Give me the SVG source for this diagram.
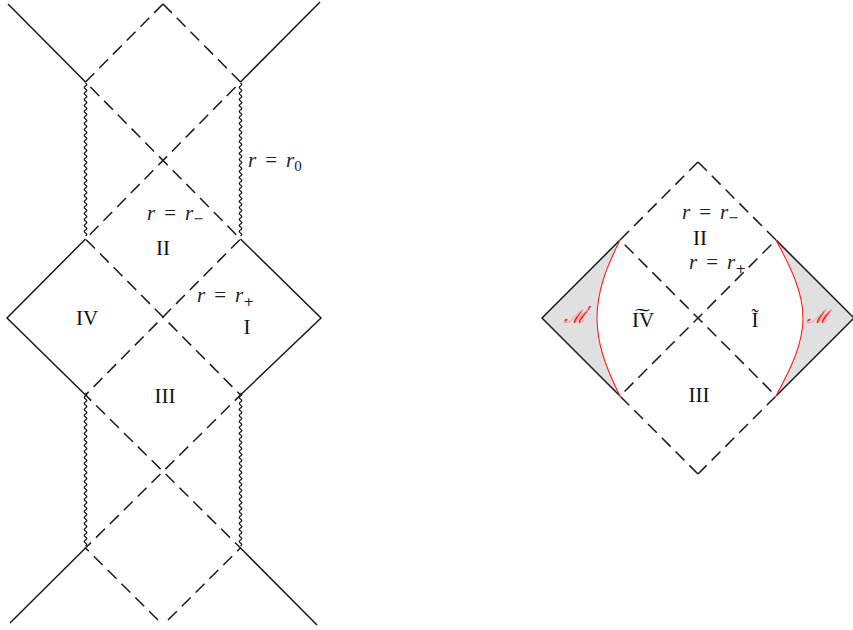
<svg xmlns="http://www.w3.org/2000/svg" xmlns:xlink="http://www.w3.org/1999/xlink" width="853" height="630" viewBox="0 0 853 630">
<style>
.sol{fill:none;stroke:#1a1a1a;stroke-width:1.5}
.dash{fill:none;stroke:#1a1a1a;stroke-width:1.5;stroke-dasharray:12.5 7}
.wig{fill:none;stroke:#1a1a1a;stroke-width:1.4}
.red{fill:none;stroke:#ff2020;stroke-width:1.1}
.gray{fill:#e0e0e0;stroke:none}
.num{font-family:"Liberation Serif",serif;font-size:21px;fill:#111;text-anchor:middle}
.m{font-family:"Liberation Serif",serif;font-size:21px;fill:#1c2036}
.i{font-style:italic}
.s{font-size:15px}
.op{font-family:"DejaVu Sans",sans-serif;font-size:13px}
.lab{font-family:"DejaVu Serif","Liberation Serif",serif;font-style:italic;font-size:19px;fill:#ff2020}
.pr{font-family:"DejaVu Sans",sans-serif;font-size:22px;fill:#ff2020}
</style>
<defs>
<path id="wg" class="wig" d="M0,0 q2.4,1.5 0,3 t0,3 t0,3 t0,3 t0,3 t0,3 t0,3 t0,3 t0,3 t0,3 t0,3 t0,3 t0,3 t0,3 t0,3 t0,3 t0,3 t0,3 t0,3 t0,3 t0,3 t0,3 t0,3 t0,3 t0,3 t0,3 t0,3 t0,3 t0,3 t0,3 t0,3 t0,3 t0,3 t0,3 t0,3 t0,3 t0,3 t0,3 t0,3 t0,3 t0,3 t0,3 t0,3 t0,3 t0,3 t0,3 t0,3 t0,3 t0,3 t0,3 t0,3"/>
</defs>
<g id="connectors">
  <!-- left diagram -->
  <polyline class="dash" points="163,4 85.5,82 240.5,239 85.5,395 240.5,548 163,625"/>
  <polyline class="dash" points="163,4 240.5,82 85.5,239 240.5,395 85.5,548 163,625"/>
  <polyline class="sol" points="8,4 85.5,82"/>
  <polyline class="sol" points="240.5,82 320,2"/>
  <polyline class="sol" points="85.5,239 7,318 85.5,395"/>
  <polyline class="sol" points="240.5,239 321,318 240.5,395"/>
  <polyline class="sol" points="85.5,548 10,623"/>
  <polyline class="sol" points="240.5,548 317,625"/>
  <use xlink:href="#wg" x="85.5" y="83"/>
  <use xlink:href="#wg" x="240.5" y="83"/>
  <use xlink:href="#wg" x="85.5" y="393"/>
  <use xlink:href="#wg" x="240.5" y="393"/>
  <!-- right diagram -->
  <path class="gray" d="M620,240 L542,318 L620,396 C606,368 597,344 597,318 C597,292 606,268 620,240 Z"/>
  <path class="gray" d="M776,240 L854,318 L776,396 C791,368 803,344 803,318 C803,292 791,268 776,240 Z"/>
  <polyline class="dash" points="698,162 620,240 776,396 698,474"/>
  <polyline class="dash" points="698,162 776,240 620,396 698,474"/>
  <polyline class="sol" points="620,240 542,318 620,396"/>
  <polyline class="sol" points="776,240 854,318 776,396"/>
  <path class="red" d="M620,240 C606,268 597,292 597,318 C597,344 606,368 620,396"/>
  <path class="red" d="M776,240 C791,268 803,292 803,318 C803,344 791,368 776,396"/>
</g>
<g id="left-labels">
  <text class="m" x="248" y="167"><tspan class="i">r</tspan><tspan dx="9">=</tspan><tspan class="i" dx="9">r</tspan><tspan class="s" dy="4">0</tspan></text>
  <text class="m" x="147" y="220"><tspan class="i">r</tspan><tspan dx="9">=</tspan><tspan class="i" dx="9">r</tspan><tspan class="op" dy="3">−</tspan></text>
  <text class="m" x="197" y="302"><tspan class="i">r</tspan><tspan dx="9">=</tspan><tspan class="i" dx="9">r</tspan><tspan class="op" dy="4">+</tspan></text>
  <text class="num" x="163" y="255">II</text>
  <text class="num" x="87" y="325">IV</text>
  <text class="num" x="247" y="334">I</text>
  <text class="num" x="165" y="403">III</text>
</g>
<g id="right-labels">
  <text class="m" x="682" y="219"><tspan class="i">r</tspan><tspan dx="9">=</tspan><tspan class="i" dx="9">r</tspan><tspan class="op" dy="3">−</tspan></text>
  <text class="m" x="689" y="269"><tspan class="i">r</tspan><tspan dx="9">=</tspan><tspan class="i" dx="9">r</tspan><tspan class="op" dy="4">+</tspan></text>
  <text class="num" x="700" y="245">II</text>
  <text class="num" x="643" y="327">I͠V</text>
  <text class="num" x="755" y="327">Ĩ</text>
  <text class="num" x="699" y="402">III</text>
  <text class="lab" x="575" y="323" text-anchor="middle">ℳ</text>
  <text class="pr" x="587" y="322">′</text>
  <text class="lab" x="818" y="323" text-anchor="middle">ℳ</text>
</g>
</svg>
